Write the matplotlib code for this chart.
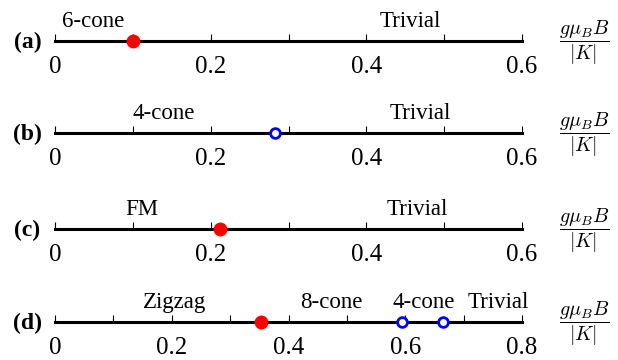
import matplotlib
matplotlib.use("Agg")
import matplotlib.pyplot as plt

plt.rcParams['font.family'] = ['Liberation Serif', 'DejaVu Serif']
plt.rcParams['mathtext.fontset'] = 'cm'

panel_labels = ["(a)", "(b)", "(c)", "(d)"]
xmax = [0.6, 0.6, 0.6, 0.8]
major_ticks = [[0, 0.2, 0.4, 0.6], [0, 0.2, 0.4, 0.6], [0, 0.2, 0.4, 0.6], [0, 0.2, 0.4, 0.6, 0.8]]
tick_labels = [["0", "0.2", "0.4", "0.6"]] * 3 + [["0", "0.2", "0.4", "0.6", "0.8"]]
minor_step = 0.1

# Phase names and their label positions (data units)
phase_names = [["6-cone", "Trivial"], ["4-cone", "Trivial"], ["FM", "Trivial"],
               ["Zigzag", "8-cone", "4-cone", "Trivial"]]
phase_pos = [[0.049, 0.457], [0.139, 0.469], [0.112, 0.466], [0.205, 0.474, 0.632, 0.760]]

# Transition points
red_points = [[0.1], [], [0.212], [0.353]]
blue_points = [[], [0.283], [], [0.594, 0.665]]

fig = plt.figure(figsize=(6.18, 3.6), dpi=100)
line_y = [41, 133, 229, 322]
W, H = 618, 360
left_px, right_px = 55, 522

for i in range(4):
    ax = fig.add_axes([left_px / W, 1 - line_y[i] / H, (right_px - left_px) / W, 0.06])
    ax.set_xlim(0, xmax[i])
    ax.set_ylim(0, 1)
    for s in ['top', 'right', 'left']:
        ax.spines[s].set_visible(False)
    ax.spines['bottom'].set_linewidth(2.2)
    ax.set_yticks([])
    ax.set_xticks(major_ticks[i])
    ax.set_xticklabels(tick_labels[i])
    n = int(round(xmax[i] / minor_step))
    ax.set_xticks([k * minor_step for k in range(n + 1)], minor=True)
    ax.tick_params(axis='x', which='both', direction='in', length=5, width=0.8,
                   pad=10.5, labelsize=18)
    for x in red_points[i]:
        ax.plot([x], [0], 'o', color='red', markersize=9, clip_on=False, zorder=5)
    for x in blue_points[i]:
        ax.plot([x], [0], 'o', markerfacecolor='white', markeredgecolor='blue',
                markeredgewidth=2, markersize=7, clip_on=False, zorder=5)
    for name, p in zip(phase_names[i], phase_pos[i]):
        ax.annotate(name, xy=(p, 0), xycoords='data', xytext=(0, 10),
                    textcoords='offset points', ha='center', va='baseline', fontsize=16.5)
    fig.text(27.5 / W, 1 - (line_y[i] + 1) / H, panel_labels[i], ha='center', va='center',
             fontsize=17, fontweight='bold')
    fig.text(584 / W, 1 - (line_y[i] + 2) / H, r'$\dfrac{g\mu_B B}{|K|}$', ha='center',
             va='center', fontsize=14.5)

fig.savefig("out.png", dpi=100)
